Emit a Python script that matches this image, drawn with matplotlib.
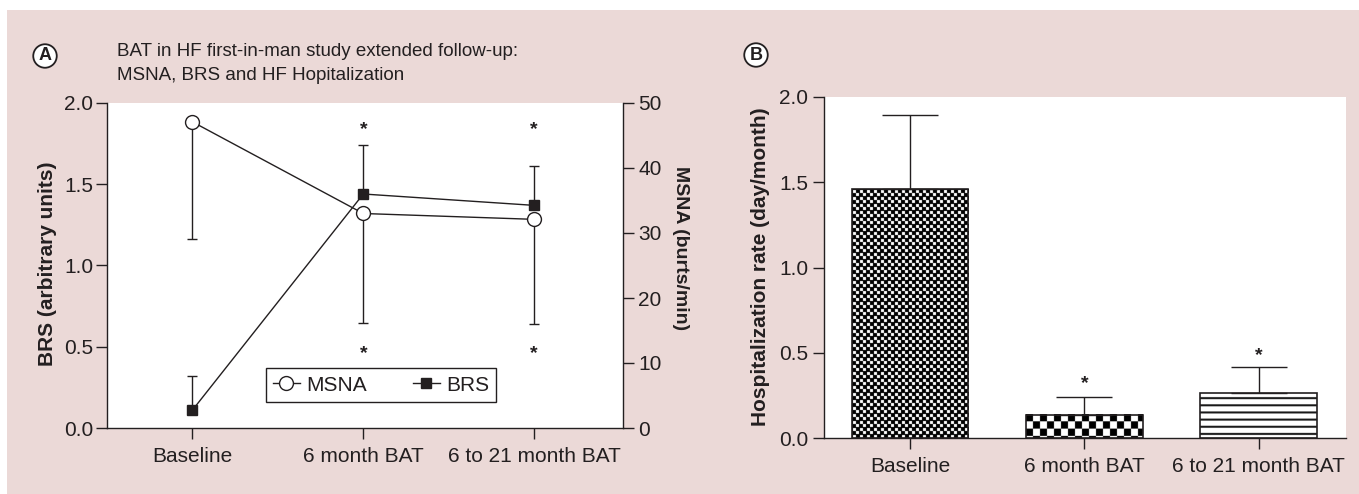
import numpy as np
import matplotlib
matplotlib.use("Agg")
import matplotlib.pyplot as plt
from matplotlib.patches import Rectangle
from matplotlib.lines import Line2D

plt.rcParams['font.family'] = ['Liberation Sans', 'DejaVu Sans']

# ---------------- data ----------------
categories = ['Baseline', '6 month BAT', '6 to 21 month BAT']
brs = [0.11, 1.44, 1.37]
brs_err_up = [0.21, 0.30, 0.24]
msna = [47.1, 33.0, 32.1]
msna_err_down = [18.0, 16.9, 16.1]
hosp = [1.46, 0.135, 0.266]
hosp_err_up = [0.435, 0.107, 0.152]
brs_ticks = [0.0, 0.5, 1.0, 1.5, 2.0]
msna_ticks = [0, 10, 20, 30, 40, 50]
hosp_ticks = [0.0, 0.5, 1.0, 1.5, 2.0]
# significance marks (category index, y value)
a_stars_hi = [(1, 1.88), (2, 1.88)]
a_stars_lo = [(1, 0.50), (2, 0.50)]
b_stars = [(1, 0.36), (2, 0.52)]

INK = '#231f20'
PINK = '#ebd9d7'
W, H = 1359, 494


def fx(px):
    return px / W


def fy(py):
    return 1 - py / H


fig = plt.figure(figsize=(W / 100, H / 100), dpi=100)
fig.patch.set_facecolor('white')
fig.patches.append(Rectangle((fx(7), 0), 1 - fx(7), fy(10), transform=fig.transFigure,
                             fc=PINK, ec='none', zorder=-10))

# ---------------- panel A ----------------
axA = fig.add_axes([fx(107), fy(428), (623 - 107) / W, (428 - 103) / H])
axA.set_facecolor('white')
x = np.arange(len(categories))
axA.set_xlim(-0.5, 2.52)
axA.set_ylim(0, 2)
ax2 = axA.twinx()
ax2.set_ylim(0, 50)

for s in ['top', 'right']:
    axA.spines[s].set_visible(False)
for s in ['top', 'left', 'bottom']:
    ax2.spines[s].set_visible(False)
for a in (axA, ax2):
    for s in a.spines.values():
        s.set_color(INK)
        s.set_linewidth(1.0)

axA.errorbar(x, brs, yerr=[np.zeros(3), brs_err_up], fmt='-s', color=INK, lw=1,
             ms=7.5, mfc=INK, mec=INK, capsize=3.5, elinewidth=1, capthick=1, zorder=3)
ax2.errorbar(x, msna, yerr=[msna_err_down, np.zeros(3)], fmt='-o', color=INK, lw=1,
             ms=10, mfc='white', mec=INK, mew=1, capsize=3.5, elinewidth=1, capthick=1, zorder=3)

axA.set_xticks(x)
axA.set_xticklabels(categories)
axA.set_yticks(brs_ticks)
axA.set_yticklabels([f'{v:.1f}' for v in brs_ticks])
ax2.set_yticks(msna_ticks)
axA.tick_params(axis='x', length=8, width=1, pad=6, labelsize=15, colors=INK)
axA.tick_params(axis='y', length=8, width=1, pad=2, labelsize=15, colors=INK)
ax2.tick_params(axis='y', length=8, width=1, pad=3, labelsize=15, colors=INK)

for xi, yv in a_stars_hi + a_stars_lo:
    axA.annotate('*', (xi, yv), xytext=(0, -8), textcoords='offset points',
                 ha='center', va='baseline', fontsize=14, fontweight='bold', color=INK)

h1 = Line2D([], [], color=INK, lw=1, marker='o', ms=10, mfc='white', mec=INK)
h2 = Line2D([], [], color=INK, lw=1, marker='s', ms=7.5, mfc=INK, mec=INK)
leg = ax2.legend([h1, h2], ['MSNA', 'BRS'], loc='center', bbox_to_anchor=(0.531, 0.132),
                 ncol=2, fontsize=15, frameon=True, fancybox=False, framealpha=1,
                 handlelength=1.3, handletextpad=0.3, columnspacing=2.2, borderpad=0.35)
leg.get_frame().set_edgecolor(INK)
leg.get_frame().set_linewidth(1.0)
for t in leg.get_texts():
    t.set_color(INK)

fig.text(fx(48), fy(264), 'BRS (arbitrary units)', rotation=90, ha='center', va='center',
         fontsize=15, fontweight='bold', color=INK)
fig.text(fx(681), fy(248), 'MSNA (burts/min)', rotation=270, ha='center', va='center',
         fontsize=14, fontweight='bold', color=INK)

fig.text(fx(117), fy(43), 'BAT in HF first-in-man study extended follow-up:\nMSNA, BRS and HF Hopitalization',
         ha='left', va='top', fontsize=13.5, color=INK, linespacing=1.55)
fig.text(fx(45), fy(56), 'A', ha='center', va='center', fontsize=13, fontweight='bold', color=INK,
         bbox=dict(boxstyle='circle,pad=0.18', fc='white', ec=INK, lw=1.3))
fig.text(fx(756), fy(55), 'B', ha='center', va='center', fontsize=13, fontweight='bold', color=INK,
         bbox=dict(boxstyle='circle,pad=0.18', fc='white', ec=INK, lw=1.3))

# ---------------- panel B ----------------
axB = fig.add_axes([fx(823.5), fy(438), (1346 - 823.5) / W, (438 - 97) / H])
axB.set_facecolor('white')
axB.set_xlim(-0.496, 2.5)
axB.set_ylim(0, 2)
for s in ['top', 'right']:
    axB.spines[s].set_visible(False)
for s in axB.spines.values():
    s.set_color(INK)
    s.set_linewidth(1.0)

bars = axB.bar(x, hosp, width=0.67, color='none', edgecolor=INK, linewidth=1.2, zorder=3)
axB.errorbar(x, hosp, yerr=[np.zeros(3), hosp_err_up], fmt='none', ecolor=INK,
             capsize=20.5, elinewidth=1, capthick=1, zorder=2)

# fill patterns (one tile pixel = one screen pixel, supersampled)
t0 = np.zeros((7, 7))
t0[1:4, 1:4] = 1
t0[4:7, 4:7] = 1
t1 = np.zeros((14, 14))
t1[0:7, 7:14] = 1
t1[7:14, 0:7] = 1
t2 = np.ones((7, 1))
t2[5, 0] = 0.1
t2[6, 0] = 0.1
tiles = [t0, t1, t2]
SS = 4
for bar, tile in zip(bars, tiles):
    bb = bar.get_window_extent()
    wpx = max(1, int(round(bb.width))) * SS
    hpx = max(1, int(round(bb.height))) * SS
    big = np.kron(tile, np.ones((SS, SS)))
    th, tw = big.shape
    img = np.tile(big, (hpx // th + 2, wpx // tw + 2))[:hpx, :wpx]
    img = img[::-1]
    axB.imshow(img, extent=(bar.get_x(), bar.get_x() + bar.get_width(),
                            bar.get_y(), bar.get_y() + bar.get_height()),
               origin='lower', cmap='gray', vmin=0, vmax=1, interpolation='antialiased',
               aspect='auto', zorder=1)
axB.set_xlim(-0.496, 2.5)
axB.set_ylim(0, 2)

axB.set_xticks(x)
axB.set_xticklabels(categories)
axB.set_yticks(hosp_ticks)
axB.set_yticklabels([f'{v:.1f}' for v in hosp_ticks])
axB.tick_params(axis='x', length=8, width=1, pad=6, labelsize=15, colors=INK)
axB.tick_params(axis='y', length=8, width=1, pad=3, labelsize=15, colors=INK)

for xi, yv in b_stars:
    axB.annotate('*', (xi, yv), xytext=(0, -8), textcoords='offset points',
                 ha='center', va='baseline', fontsize=14, fontweight='bold', color=INK)

fig.text(fx(760), fy(267), 'Hospitalization rate (day/month)', rotation=90, ha='center',
         va='center', fontsize=15, fontweight='bold', color=INK)

fig.savefig('out.png', dpi=100, facecolor=fig.get_facecolor())
